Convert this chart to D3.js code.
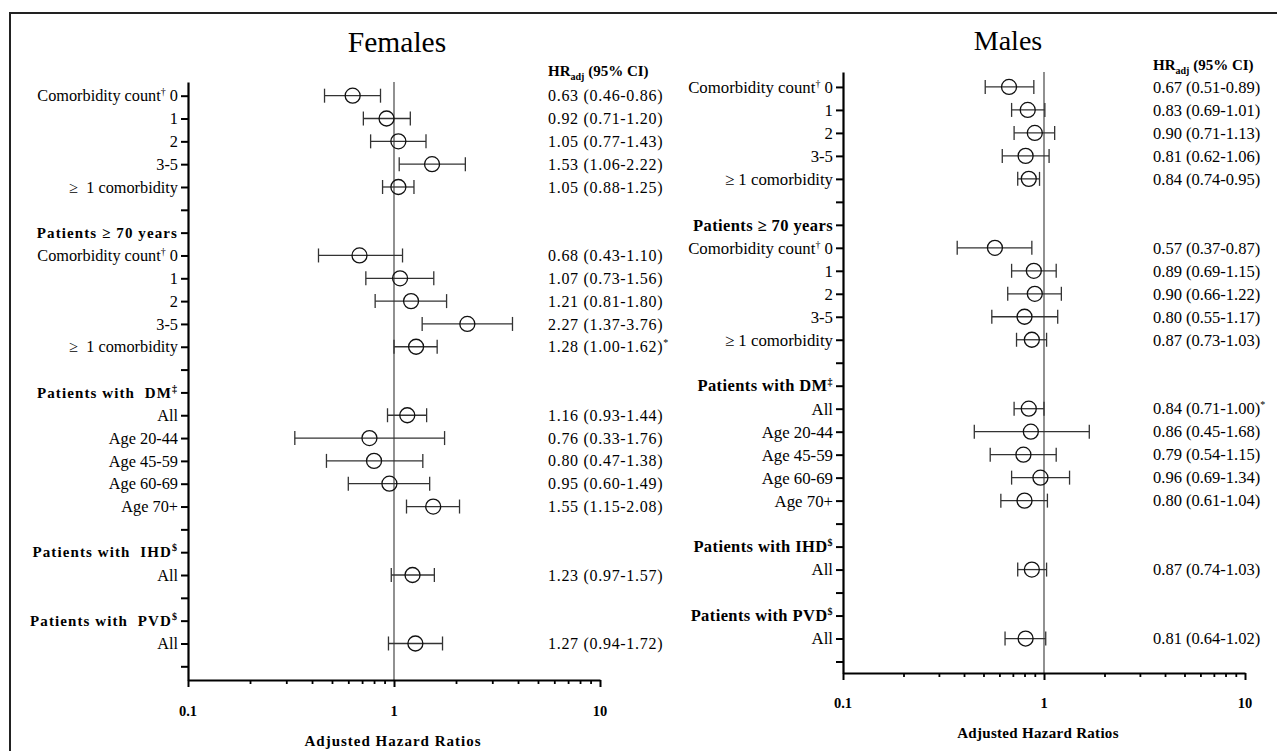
<!DOCTYPE html>
<html>
<head>
<meta charset="utf-8">
<script src="https://cdn.jsdelivr.net/npm/d3@7"></script>
<style>
  body { margin: 0; background: #fff; }
  svg { display: block; font-family: "Liberation Serif", "Times New Roman", serif; }
  text { white-space: pre; }
</style>
</head>
<body>
<svg id="chart" width="1277" height="751"></svg>
<script>
// row labels, "^" toggles superscript
var femaleLabels = ["Comorbidity count^†^ 0", "1", "2", "3-5", "≥  1 comorbidity", "",
  "Patients ≥ 70 years", "Comorbidity count^†^ 0", "1", "2", "3-5", "≥  1 comorbidity", "",
  "Patients with  DM^‡", "All", "Age 20-44", "Age 45-59", "Age 60-69", "Age 70+", "",
  "Patients with  IHD^$", "All", "", "Patients with  PVD^$", "All", ""];
var maleLabels = ["Comorbidity count^†^ 0", "1", "2", "3-5", "≥ 1 comorbidity", "",
  "Patients ≥ 70 years", "Comorbidity count^†^ 0", "1", "2", "3-5", "≥ 1 comorbidity", "",
  "Patients with DM^‡", "All", "Age 20-44", "Age 45-59", "Age 60-69", "Age 70+", "",
  "Patients with IHD^$", "All", "", "Patients with PVD^$", "All", ""];
var headerRows = [6, 13, 20, 23];

var femaleHR = [0.63, 0.92, 1.05, 1.53, 1.05, null, null, 0.68, 1.07, 1.21, 2.27, 1.28, null,
  null, 1.16, 0.76, 0.80, 0.95, 1.55, null, null, 1.23, null, null, 1.27, null];
var femaleLo = [0.46, 0.71, 0.77, 1.06, 0.88, null, null, 0.43, 0.73, 0.81, 1.37, 1.00, null,
  null, 0.93, 0.33, 0.47, 0.60, 1.15, null, null, 0.97, null, null, 0.94, null];
var femaleHi = [0.86, 1.20, 1.43, 2.22, 1.25, null, null, 1.10, 1.56, 1.80, 3.76, 1.62, null,
  null, 1.44, 1.76, 1.38, 1.49, 2.08, null, null, 1.57, null, null, 1.72, null];
var femaleStar = [11];

var maleHR = [0.67, 0.83, 0.90, 0.81, 0.84, null, null, 0.57, 0.89, 0.90, 0.80, 0.87, null,
  null, 0.84, 0.86, 0.79, 0.96, 0.80, null, null, 0.87, null, null, 0.81, null];
var maleLo = [0.51, 0.69, 0.71, 0.62, 0.74, null, null, 0.37, 0.69, 0.66, 0.55, 0.73, null,
  null, 0.71, 0.45, 0.54, 0.69, 0.61, null, null, 0.74, null, null, 0.64, null];
var maleHi = [0.89, 1.01, 1.13, 1.06, 0.95, null, null, 0.87, 1.15, 1.22, 1.17, 1.03, null,
  null, 1.00, 1.68, 1.15, 1.34, 1.04, null, null, 1.03, null, null, 1.02, null];
var maleStar = [14];

var majorTicks = [0.1, 1, 10];
var minorTicks = [0.2, 0.3, 0.4, 0.5, 0.6, 0.7, 0.8, 0.9, 2, 3, 4, 5, 6, 7, 8, 9];

var svg = d3.select("#chart");
var f2 = d3.format(".2f");

// outer frame (only top + left visible)
svg.append("path").attr("d", "M10,751 L10,13 L1277,13")
  .attr("fill", "none").attr("stroke", "#222").attr("stroke-width", 2);

function addRich(sel, str, supSize, supShift) {
  var parts = str.split("^");
  parts.forEach(function(p, i) {
    if (p === "") return;
    var t = sel.append("tspan").text(p);
    if (i % 2 == 1) {
      t.attr("font-size", supSize).attr("dy", -supShift);
    } else if (i > 0) {
      t.attr("dy", supShift);
    }
  });
}

function drawPanel(cfg) {
  var g = svg.append("g");
  var x = d3.scaleLog().domain([0.1, 10]).range([cfg.x0, cfg.x1]);
  var y = d3.scaleLinear().domain([cfg.r0, cfg.r1]).range([cfg.yTop, cfg.yBottom]);

  // title
  g.append("text").attr("x", cfg.titleX).attr("y", cfg.titleY)
    .attr("text-anchor", "middle").attr("font-size", cfg.titleSize).text(cfg.title);

  // reference line at 1
  g.append("line").attr("x1", x(1)).attr("x2", x(1))
    .attr("y1", cfg.yTop).attr("y2", cfg.yBottom)
    .attr("stroke", "#555").attr("stroke-width", 1.3);

  // y axis
  var yAxis = d3.axisLeft(y).tickValues(d3.range(cfg.labels.length))
    .tickFormat("").tickSize(7).tickSizeOuter(0);
  var ya = g.append("g").attr("transform", "translate(" + cfg.x0 + ",0)").call(yAxis);
  ya.select(".domain").attr("stroke", "#000").attr("stroke-width", 2.2);
  ya.selectAll(".tick line").attr("stroke", "#000").attr("stroke-width", 2);

  // x axis
  var xMinor = d3.axisBottom(x).tickValues(minorTicks).tickFormat("").tickSize(4).tickSizeOuter(0);
  var xa = g.append("g").attr("transform", "translate(0," + cfg.yBottom + ")").call(xMinor);
  xa.select(".domain").attr("stroke", "#000").attr("stroke-width", 2.2);
  xa.selectAll(".tick line").attr("stroke", "#000").attr("stroke-width", 1.8);
  var xMajor = d3.axisBottom(x).tickValues(majorTicks).tickFormat("").tickSize(7).tickSizeOuter(0);
  var xb = g.append("g").attr("transform", "translate(0," + cfg.yBottom + ")").call(xMajor);
  xb.select(".domain").remove();
  xb.selectAll(".tick line").attr("stroke", "#000").attr("stroke-width", 2);

  g.selectAll(".xlab").data(majorTicks).enter().append("text")
    .attr("x", function(d) { return x(d); }).attr("y", cfg.tickLabelY)
    .attr("text-anchor", "middle").attr("dy", "0.35em")
    .attr("font-weight", "bold").attr("font-size", 14.5)
    .text(function(d) { return d3.format("")(d); });

  g.append("text").attr("x", cfg.axisTitleX).attr("y", cfg.axisTitleY)
    .attr("text-anchor", "middle").attr("dy", "0.35em")
    .attr("font-weight", "bold").attr("font-size", 15)
    .attr("letter-spacing", cfg.axisTitleSpacing)
    .text("Adjusted Hazard Ratios");

  // row labels
  cfg.labels.forEach(function(lab, i) {
    if (lab === "") return;
    var isHead = headerRows.indexOf(i) >= 0;
    var t = g.append("text").attr("x", cfg.x0 - 10).attr("y", y(i))
      .attr("text-anchor", "end").attr("dy", "0.35em")
      .attr("font-size", cfg.labelSize);
    if (isHead) {
      t.attr("font-weight", "bold").attr("letter-spacing", cfg.headSpacing)
        .attr("font-size", cfg.headSize);
    }
    addRich(t, lab, 10, 6);
  });

  // error bars + points
  var rows = d3.range(cfg.hr.length).filter(function(i) { return cfg.hr[i] != null; });
  var bars = g.selectAll(".bar").data(rows).enter().append("g");
  bars.append("line")
    .attr("x1", function(i) { return x(cfg.lo[i]); }).attr("x2", function(i) { return x(cfg.hi[i]); })
    .attr("y1", function(i) { return y(i); }).attr("y2", function(i) { return y(i); })
    .attr("stroke", "#333").attr("stroke-width", 1.3);
  bars.append("line")
    .attr("x1", function(i) { return x(cfg.lo[i]); }).attr("x2", function(i) { return x(cfg.lo[i]); })
    .attr("y1", function(i) { return y(i) - 7; }).attr("y2", function(i) { return y(i) + 7; })
    .attr("stroke", "#333").attr("stroke-width", 1.3);
  bars.append("line")
    .attr("x1", function(i) { return x(cfg.hi[i]); }).attr("x2", function(i) { return x(cfg.hi[i]); })
    .attr("y1", function(i) { return y(i) - 7; }).attr("y2", function(i) { return y(i) + 7; })
    .attr("stroke", "#333").attr("stroke-width", 1.3);
  bars.append("circle")
    .attr("cx", function(i) { return x(cfg.hr[i]); }).attr("cy", function(i) { return y(i); })
    .attr("r", 7.5).attr("fill", "none").attr("stroke", "#111").attr("stroke-width", 1.3);

  // HR column
  var h = g.append("text").attr("x", cfg.colX).attr("y", cfg.headY).attr("dy", "0.35em")
    .attr("font-weight", "bold").attr("font-size", 15);
  h.append("tspan").text("HR");
  h.append("tspan").text("adj").attr("font-size", 10).attr("dy", 4);
  h.append("tspan").text(" (95% CI)").attr("dy", -4);

  rows.forEach(function(i) {
    var t = g.append("text").attr("x", cfg.colX).attr("y", y(i)).attr("dy", "0.35em")
      .attr("font-size", cfg.valSize).attr("letter-spacing", cfg.valSpacing)
      .text(f2(cfg.hr[i]) + " (" + f2(cfg.lo[i]) + "-" + f2(cfg.hi[i]) + ")");
    if (cfg.star.indexOf(i) >= 0) {
      t.append("tspan").text("*").attr("font-size", 10).attr("dy", -6);
    }
  });
}

drawPanel({
  title: "Females", titleX: 397, titleY: 52, titleSize: 29.5,
  x0: 188, x1: 600, yTop: 82, yBottom: 680, r0: -0.6, r1: 25.6,
  labels: femaleLabels, labelSize: 16.3, headSize: 15, headSpacing: 1.1,
  hr: femaleHR, lo: femaleLo, hi: femaleHi, star: femaleStar,
  colX: 548, headY: 71, valSize: 16, valSpacing: 0.7,
  tickLabelY: 711, axisTitleX: 393, axisTitleY: 741, axisTitleSpacing: 1
});

drawPanel({
  title: "Males", titleX: 1008, titleY: 50, titleSize: 28,
  x0: 843, x1: 1245, yTop: 72, yBottom: 673, r0: -0.65, r1: 25.5,
  labels: maleLabels, labelSize: 16.8, headSize: 16.5, headSpacing: 0.4,
  hr: maleHR, lo: maleLo, hi: maleHi, star: maleStar,
  colX: 1153, headY: 65, valSize: 16.5, valSpacing: 0,
  tickLabelY: 703, axisTitleX: 1038, axisTitleY: 733, axisTitleSpacing: 0.3
});
</script>
</body>
</html>
